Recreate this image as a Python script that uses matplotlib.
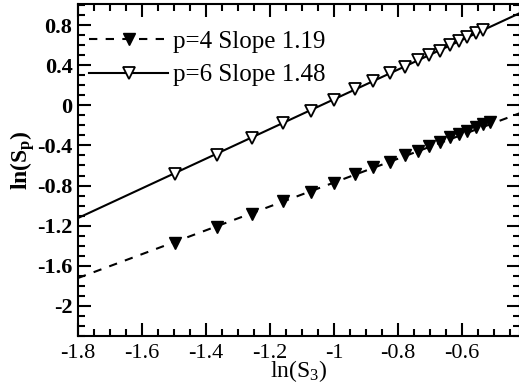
import matplotlib
matplotlib.use("Agg")
import matplotlib.pyplot as plt
from matplotlib.ticker import MultipleLocator, FuncFormatter
import numpy as np

# ================= DATA =================
x_p6 = [-1.497, -1.366, -1.256, -1.159, -1.072, -1.0, -0.934, -0.878, -0.825,
        -0.778, -0.738, -0.703, -0.669, -0.637, -0.609, -0.584, -0.556, -0.534]
y_p6 = [-0.68, -0.50, -0.33, -0.18, -0.06, 0.05, 0.16, 0.24, 0.32,
        0.38, 0.45, 0.50, 0.54, 0.60, 0.64, 0.68, 0.72, 0.75]

x_p4 = [-1.497, -1.366, -1.256, -1.159, -1.072, -1.0, -0.934, -0.878, -0.825,
        -0.778, -0.738, -0.703, -0.669, -0.637, -0.609, -0.584, -0.556, -0.534, -0.513]
y_p4 = [-1.37, -1.21, -1.08, -0.95, -0.86, -0.77, -0.68, -0.62, -0.57,
        -0.50, -0.46, -0.41, -0.37, -0.32, -0.29, -0.26, -0.22, -0.19, -0.17]

# fitted lines: slope, intercept
fit_p4 = (1.19, 0.42)
fit_p6 = (1.48, 1.54)

# ================= STYLE =================
plt.rcParams['font.family'] = ['Liberation Serif', 'DejaVu Serif']
plt.rcParams['mathtext.fontset'] = 'custom'
plt.rcParams['mathtext.rm'] = 'Liberation Serif'
plt.rcParams['mathtext.it'] = 'Liberation Serif'
plt.rcParams['mathtext.bf'] = 'Liberation Serif:bold'
plt.rcParams['axes.unicode_minus'] = False

fig = plt.figure(figsize=(5.19, 3.92), dpi=100)
ax = fig.add_axes([78 / 519, (392 - 336) / 392, 441.6 / 519, 332 / 392])

xl = np.array([-1.8, -0.42])

# ================= PLOT =================
ax.plot(xl, fit_p4[0] * xl + fit_p4[1], color='black', lw=1.5, ls=(0, (4, 4)))
ax.plot(xl, fit_p6[0] * xl + fit_p6[1], color='black', lw=1.5)
ax.plot(x_p4, y_p4, ls='none', marker='v', ms=8.5, mfc='black', mec='black')
ax.plot(x_p6, y_p6, ls='none', marker='v', ms=8.5, mfc='white', mec='black', mew=1.3)

# legend handles
h4, = ax.plot([], [], color='black', lw=1.5, ls=(0, (4, 4)), marker='v', ms=8.5,
              mfc='black', mec='black')
h6, = ax.plot([], [], color='black', lw=1.5, marker='v', ms=8.5,
              mfc='white', mec='black', mew=1.3)
ax.legend([h4, h6], ['p=4 Slope 1.19', 'p=6 Slope 1.48'], loc='upper left',
          bbox_to_anchor=(0.0, 0.955), frameon=False, numpoints=1,
          handlelength=3.15, handletextpad=0.2, labelspacing=0.45,
          borderaxespad=0.05, fontsize=18)

ax.set_xlim(-1.8, -0.42)
ax.set_ylim(-2.3, 1.01)

fmt = FuncFormatter(lambda v, pos: '%g' % round(v, 2))
ax.xaxis.set_major_locator(MultipleLocator(0.2))
ax.xaxis.set_minor_locator(MultipleLocator(0.05))
ax.yaxis.set_major_locator(MultipleLocator(0.4))
ax.yaxis.set_minor_locator(MultipleLocator(0.1))
ax.xaxis.set_major_formatter(fmt)
ax.yaxis.set_major_formatter(fmt)

ax.tick_params(which='both', direction='in', top=True, right=True, width=1.5,
               labelsize=16)
ax.tick_params(which='major', length=9.5)
ax.tick_params(which='minor', length=5)
ax.tick_params(axis='x', pad=6)
ax.tick_params(axis='y', pad=4)
for lab in ax.get_yticklabels():
    lab.set_fontweight('bold')
for s in ax.spines.values():
    s.set_linewidth(1.5)

ax.set_xlabel('ln(S$_3$)', fontsize=17, labelpad=-4)
ax.set_ylabel(r'ln(S$_\mathbf{p}$)', fontsize=17, fontweight='bold')
ax.yaxis.set_label_coords(-0.093, 0.53)

fig.savefig('out.png', dpi=100)
